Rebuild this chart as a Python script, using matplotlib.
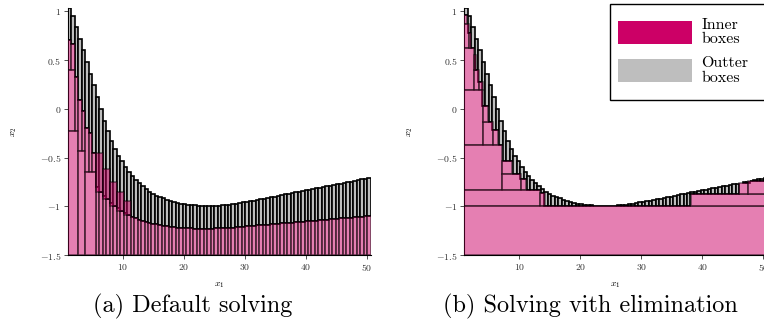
import matplotlib
matplotlib.use("Agg")
import matplotlib.pyplot as plt
from matplotlib.patches import Patch, Rectangle

plt.rcParams['font.family'] = ['cmr10', 'DejaVu Serif']
plt.rcParams['mathtext.fontset'] = 'cm'
plt.rcParams['axes.unicode_minus'] = False

# ---------------- data ----------------
x_start = 1.0
x_end = 50.6
n_cols = 87

# upper bound of the outer boxes (per narrow column)
upper = [1.03, 0.95, 0.84, 0.72, 0.60, 0.48, 0.36, 0.24, 0.12, 0.00,
         -0.12, -0.23, -0.33, -0.41, -0.48, -0.54, -0.60, -0.65, -0.69, -0.73,
         -0.765, -0.795, -0.825, -0.85, -0.87, -0.89, -0.905, -0.92, -0.935, -0.947,
         -0.957, -0.965, -0.972, -0.978, -0.983, -0.987, -0.99, -0.993, -0.995, -0.996,
         -0.997, -0.996, -0.995, -0.993, -0.99, -0.987, -0.983, -0.978, -0.973, -0.967,
         -0.961, -0.955, -0.948, -0.942, -0.935, -0.928, -0.921, -0.914, -0.907, -0.90,
         -0.893, -0.886, -0.879, -0.872, -0.865, -0.858, -0.851, -0.844, -0.837, -0.83,
         -0.823, -0.816, -0.809, -0.802, -0.795, -0.788, -0.781, -0.774, -0.767, -0.76,
         -0.753, -0.746, -0.739, -0.732, -0.725, -0.718, -0.711]

# (a) lower bound of outer boxes = top of inner boxes
lower_a = [0.71, 0.67, 0.33, 0.09, -0.02, -0.20, -0.25, -0.45, -0.80, -0.85,
           -0.89, -0.93, -0.965, -0.995, -1.02, -1.045, -1.07, -1.09, -1.11, -1.125,
           -1.14, -1.15, -1.16, -1.17, -1.178, -1.186, -1.193, -1.199, -1.205, -1.21,
           -1.214, -1.218, -1.221, -1.224, -1.226, -1.228, -1.229, -1.23, -1.23, -1.23,
           -1.23, -1.229, -1.228, -1.227, -1.225, -1.223, -1.221, -1.218, -1.215, -1.212,
           -1.209, -1.206, -1.203, -1.20, -1.197, -1.194, -1.191, -1.188, -1.185, -1.182,
           -1.179, -1.176, -1.173, -1.17, -1.167, -1.164, -1.161, -1.158, -1.155, -1.152,
           -1.149, -1.146, -1.143, -1.14, -1.137, -1.134, -1.131, -1.128, -1.125, -1.122,
           -1.119, -1.116, -1.113, -1.11, -1.107, -1.104, -1.10]
first_simple_col_a = 8

# (a) extra inner boxes (x0, x1, y0, y1) near the left border
a_box_x0 = [1.00, 1.57, 1.00, 2.14, 1.00, 2.71, 3.28, 2.71, 3.85, 4.42, 4.99, 3.85,
            5.56, 6.70, 7.84, 8.98, 10.12]
a_box_x1 = [1.57, 2.14, 2.14, 2.71, 2.71, 3.28, 3.85, 3.85, 4.42, 4.99, 5.56, 5.56,
            6.70, 7.84, 8.98, 10.12, 11.26]
a_box_y0 = [0.40, 0.40, -0.23, -0.23, -1.50, -0.43, -0.43, -1.50, -0.65, -0.65, -0.65, -1.50,
            -0.85, -0.93, -1.00, -1.05, -1.09]
a_box_y1 = [0.71, 0.67, 0.40, 0.33, -0.23, 0.09, -0.02, -0.43, -0.20, -0.25, -0.45, -0.65,
            -0.45, -0.62, -0.75, -0.85, -0.95]

# (b) inner boxes
b_box_x0 = [1.0, 1.0, 1.0, 1.775, 2.55, 2.55, 3.33, 1.0, 4.10, 4.10, 5.65, 1.0,
            7.2, 7.2, 10.3, 1.0, 13.4, 1.0, 38.2, 45.95, 47.5]
b_box_x1 = [1.39, 1.775, 2.55, 2.16, 3.33, 2.94, 4.10, 4.10, 5.65, 4.875, 6.43, 7.2,
            8.75, 10.3, 11.075, 13.4, 14.175, 50.6, 50.6, 47.5, 50.6]
b_box_y0 = [0.87, 0.62, 0.195, 0.62, 0.195, 0.40, 0.195, -0.37, -0.37, -0.13, -0.37, -0.83,
            -0.67, -0.83, -0.83, -1.0, -1.0, -1.5, -1.0, -0.87, -0.87]
b_box_y1 = [0.96, 0.87, 0.62, 0.78, 0.40, 0.55, 0.28, 0.195, -0.13, 0.03, -0.22, -0.37,
            -0.54, -0.67, -0.72, -0.83, -0.865, -1.0, -0.87, -0.76, -0.745]

x_ticks = [10, 20, 30, 40, 50]
y_ticks = [-1.5, -1, -0.5, 0, 0.5, 1]
y_tick_labels = ['$-1.5$', '$-1$', '$-0.5$', '$0$', '$0.5$', '$1$']
x_tick_labels = ['$10$', '$20$', '$30$', '$40$', '$50$']
legend_labels = ['Inner\nboxes', 'Outter\nboxes']
captions = ['(a) Default solving', '(b) Solving vith elimination']

# ---------------- style ----------------
INNER = '#cc0066'
OUTER = '#bebebe'
EDGE = 'black'
LW = 1.2

W, H = 764, 329
fig = plt.figure(figsize=(W / 100, H / 100), dpi=100)
ax_w = 302.6 / W
ax_b = 1 - 255 / H
ax_h = 247 / H
axA = fig.add_axes([68 / W, ax_b, ax_w, ax_h])
axB = fig.add_axes([464.4 / W, ax_b, ax_w, ax_h])

col_w = (x_end - x_start) / n_cols
col_x = [x_start + i * col_w for i in range(n_cols)]

# ---- (a)
outer_h = [u - l for u, l in zip(upper, lower_a)]
axA.bar(col_x, outer_h, width=col_w, bottom=lower_a, align='edge',
        color=OUTER, edgecolor=EDGE, linewidth=LW, zorder=2)
xs = col_x[first_simple_col_a:]
tops = lower_a[first_simple_col_a:]
axA.bar(xs, [t + 1.5 for t in tops], width=col_w, bottom=-1.5, align='edge',
        color=INNER, alpha=0.5, edgecolor=EDGE, linewidth=LW, zorder=3)
axA.bar(a_box_x0, [b - a for a, b in zip(a_box_y0, a_box_y1)],
        width=[b - a for a, b in zip(a_box_x0, a_box_x1)], bottom=a_box_y0,
        align='edge', color=INNER, alpha=0.5, edgecolor=EDGE, linewidth=LW, zorder=3)

# ---- (b)
lower_b = []
for x in col_x:
    c = x + col_w / 2
    t = -1.5
    for x0, x1, y1 in zip(b_box_x0, b_box_x1, b_box_y1):
        if x0 <= c <= x1:
            t = max(t, y1)
    lower_b.append(t)
bx = [x for x, u, l in zip(col_x, upper, lower_b) if u > l]
bl = [l for u, l in zip(upper, lower_b) if u > l]
bh = [u - l for u, l in zip(upper, lower_b) if u > l]
axB.bar(bx, bh, width=col_w, bottom=bl, align='edge',
        color=OUTER, edgecolor=EDGE, linewidth=LW, zorder=2)
axB.bar(b_box_x0, [b - a for a, b in zip(b_box_y0, b_box_y1)],
        width=[b - a for a, b in zip(b_box_x0, b_box_x1)], bottom=b_box_y0,
        align='edge', color=INNER, alpha=0.5, edgecolor=EDGE, linewidth=LW, zorder=3)

for ax in (axA, axB):
    ax.set_xlim(x_start, x_end)
    ax.set_ylim(-1.5, 1.035)
    ax.spines['top'].set_visible(False)
    ax.spines['right'].set_visible(False)
    for s in ('left', 'bottom'):
        ax.spines[s].set_linewidth(0.8)
    ax.set_xticks(x_ticks)
    ax.set_xticklabels(x_tick_labels)
    ax.set_yticks(y_ticks)
    ax.set_yticklabels(y_tick_labels)
    ax.tick_params(direction='out', length=3, width=0.6, labelsize=7,
                   colors='#333333', pad=2)
    ax.set_xlabel('$x_1$', fontsize=7, labelpad=5)
    ax.set_ylabel('$x_2$', fontsize=7, labelpad=15)
    ax.set_facecolor('none')

handles = [Patch(facecolor=INNER, edgecolor='none'),
           Patch(facecolor=OUTER, edgecolor='none')]
LFS = 11.5
fs_px = LFS * 100 / 72
leg = axB.legend(handles, legend_labels, loc='upper left',
                 bbox_to_anchor=(610 / W, 1 - 10 / H), bbox_transform=fig.transFigure,
                 borderaxespad=0, fontsize=LFS, handlelength=74 / fs_px,
                 handleheight=30 / fs_px,
                 handletextpad=0.6, labelspacing=0.6, borderpad=0.5,
                 frameon=False)
for t in leg.get_texts():
    t.set_linespacing(1.1)
leg.set_zorder(6)
# legend frame (extends past the cropped right border like the reference)
frame = Rectangle((610 / W, 1 - 100 / H), 170 / W, 96 / H,
                  transform=fig.transFigure, facecolor='white',
                  edgecolor='black', linewidth=1.0, zorder=5, clip_on=False)
axB.add_patch(frame)

fig.text(193 / W, 1 - 306 / H, captions[0], ha='center', va='center', fontsize=17.5)
fig.text(590 / W, 1 - 306 / H, captions[1], ha='center', va='center', fontsize=17.5)

fig.savefig('out.png', dpi=100)
